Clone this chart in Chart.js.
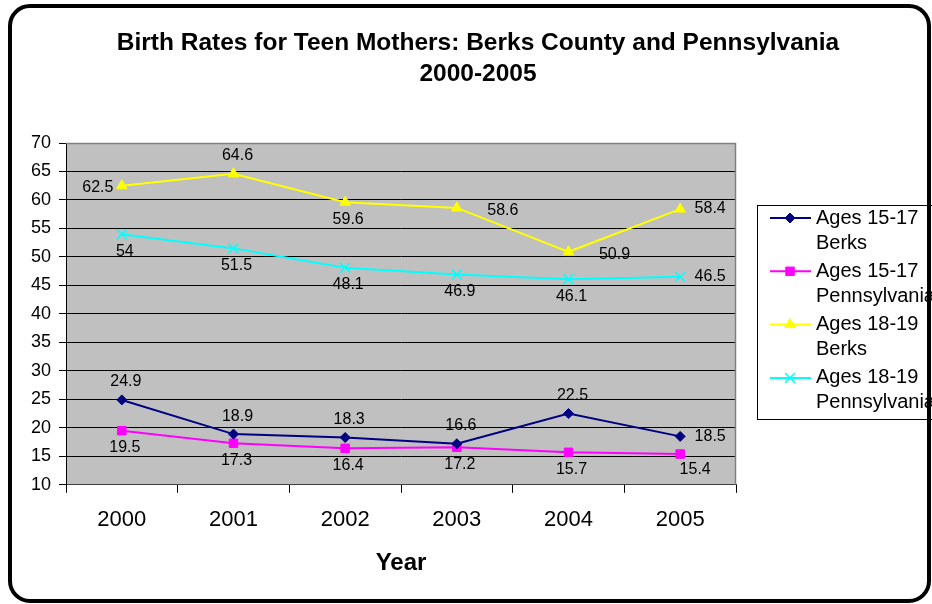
<!DOCTYPE html>
<html>
<head>
<meta charset="utf-8">
<script src="https://cdn.jsdelivr.net/npm/chart.js@4.4.1/dist/chart.umd.min.js"></script>
<style>
    body { margin: 0; background: #fff; }
    #wrap { position: relative; width: 932px; height: 604px; overflow: hidden; }
    #frame {
        position: absolute; left: 8px; top: 4px; width: 923px; height: 599px;
        border: 4px solid #000; border-radius: 22px; box-sizing: border-box; pointer-events: none;
    }
    canvas { position: absolute; left: 0; top: 0; }
</style>
</head>
<body>
<div id="wrap">
    <canvas id="myChart" width="932" height="604"></canvas>
    <div id="frame"></div>
</div>
<script>
const years = ['2000', '2001', '2002', '2003', '2004', '2005'];

const berks1517 = [24.9, 18.9, 18.3, 17.2, 22.5, 18.5];
const penn1517 = [19.5, 17.3, 16.4, 16.6, 15.7, 15.4];
const berks1819 = [62.5, 64.6, 59.6, 58.6, 50.9, 58.4];
const penn1819 = [54, 51.5, 48.1, 46.9, 46.1, 46.5];

// printed labels (the 2003 labels of the 15-17 series are swapped on the original)
const berks1517Labels = ['24.9', '18.9', '18.3', '16.6', '22.5', '18.5'];
const penn1517Labels = ['19.5', '17.3', '16.4', '17.2', '15.7', '15.4'];

const seriesNames = [
    ['Ages 15-17', 'Berks'],
    ['Ages 15-17', 'Pennsylvania'],
    ['Ages 18-19', 'Berks'],
    ['Ages 18-19', 'Pennsylvania']
];

const yTicks = { min: 10, max: 70, step: 5 };

// where each value label sits relative to its point
const labelSpots = [
    ['above', 'above', 'above', 'above', 'above', 'right'],
    ['below', 'below', 'below', 'below', 'below', 'belowRight'],
    ['left', 'above', 'below', 'farRight', 'farRight', 'right'],
    ['below', 'below', 'below', 'below', 'below', 'right']
];
const spotOffsets = {
    above: [4, -18], below: [3, 17], left: [-24, 2],
    right: [30, 0], farRight: [46, 3], belowRight: [15, 16]
};

const FONT = 'Liberation Sans, Arial, sans-serif';
Chart.defaults.font.family = FONT;
Chart.defaults.color = '#000';

const plotBackground = {
    id: 'plotBackground',
    beforeDraw(chart) {
        const { ctx, chartArea: a } = chart;
        ctx.save();
        ctx.fillStyle = '#C0C0C0';
        ctx.fillRect(a.left, a.top, a.right - a.left, a.bottom - a.top);
        ctx.restore();
    },
    afterDatasetsDraw(chart) {
        const { ctx, chartArea: a } = chart;
        ctx.save();
        ctx.strokeStyle = '#808080';
        ctx.lineWidth = 1.5;
        ctx.beginPath();
        ctx.moveTo(a.left, a.top + 0.5);
        ctx.lineTo(a.right - 0.5, a.top + 0.5);
        ctx.lineTo(a.right - 0.5, a.bottom);
        ctx.stroke();
        ctx.restore();
    }
};

const valueLabels = {
    id: 'valueLabels',
    afterDatasetsDraw(chart) {
        const ctx = chart.ctx;
        ctx.save();
        ctx.font = '16px ' + FONT;
        ctx.fillStyle = '#000';
        ctx.textAlign = 'center';
        ctx.textBaseline = 'middle';
        chart.data.datasets.forEach((ds, i) => {
            chart.getDatasetMeta(i).data.forEach((pt, j) => {
                const text = ds.printed ? ds.printed[j] : String(ds.data[j]);
                const off = spotOffsets[labelSpots[i][j]];
                ctx.fillText(text, pt.x + off[0], pt.y + off[1]);
            });
        });
        ctx.restore();
    }
};

const titleAndLegend = {
    id: 'titleAndLegend',
    afterDraw(chart) {
        const ctx = chart.ctx;
        ctx.save();
        // title
        ctx.fillStyle = '#000';
        ctx.textAlign = 'center';
        ctx.textBaseline = 'alphabetic';
        ctx.font = 'bold 24.5px ' + FONT;
        ctx.fillText('Birth Rates for Teen Mothers: Berks County and Pennsylvania', 478, 50);
        ctx.fillText('2000-2005', 478, 81);

        // legend box
        ctx.strokeStyle = '#000';
        ctx.lineWidth = 1;
        ctx.strokeRect(757.5, 205.5, 200, 214);

        chart.data.datasets.forEach((ds, i) => {
            const y = 218 + i * 53.3;
            ctx.strokeStyle = ds.borderColor;
            ctx.lineWidth = 2;
            ctx.beginPath();
            ctx.moveTo(770, y);
            ctx.lineTo(811, y);
            ctx.stroke();
            ctx.fillStyle = ds.pointBackgroundColor;
            ctx.strokeStyle = ds.borderColor;
            ctx.lineWidth = ds.pointBorderWidth;
            Chart.helpers.drawPoint(ctx, {
                pointStyle: ds.pointStyle, radius: ds.pointRadius,
                borderWidth: ds.pointBorderWidth, rotation: 0
            }, 790, y);
            ctx.fillStyle = '#000';
            ctx.textAlign = 'left';
            ctx.textBaseline = 'middle';
            ctx.font = '20px ' + FONT;
            ctx.fillText(seriesNames[i][0], 816, y);
            ctx.fillText(seriesNames[i][1], 816, y + 25);
        });
        ctx.restore();
    }
};

function series(values, color, style, radius, printed) {
    return {
        data: values,
        printed: printed,
        borderColor: color,
        backgroundColor: color,
        pointBackgroundColor: color,
        pointBorderColor: color,
        borderWidth: 2,
        pointStyle: style,
        pointRadius: radius,
        pointBorderWidth: style === 'crossRot' ? 1.5 : 1,
        tension: 0
    };
}

const ctx = document.getElementById('myChart').getContext('2d');
const myChart = new Chart(ctx, {
    type: 'line',
    data: {
        labels: years,
        datasets: [
            series(berks1517, '#000080', 'rectRot', 5, berks1517Labels),
            series(penn1517, '#FF00FF', 'rect', 6, penn1517Labels),
            series(berks1819, '#FFFF00', 'triangle', 6, null),
            series(penn1819, '#00FFFF', 'crossRot', 7, null)
        ]
    },
    options: {
        responsive: false,
        animation: false,
        devicePixelRatio: 1,
        layout: { padding: { left: 0, right: 196, top: 143, bottom: 22 } },
        plugins: {
            legend: { display: false },
            title: { display: false },
            tooltip: { enabled: false }
        },
        scales: {
            x: {
                offset: true,
                grid: { offset: true, drawOnChartArea: false, drawTicks: true, tickLength: 8, color: '#000' },
                border: { color: '#404040', width: 1 },
                ticks: { font: { size: 22 }, color: '#000', padding: 14, maxRotation: 0 },
                title: {
                    display: true, text: 'Year', color: '#000',
                    font: { size: 24, weight: 'bold' },
                    padding: { top: 2, bottom: 4 }
                }
            },
            y: {
                min: yTicks.min,
                max: yTicks.max,
                ticks: { stepSize: yTicks.step, font: { size: 18 }, color: '#000', padding: 8 },
                grid: { color: '#000', tickLength: 7 },
                border: { color: '#000', width: 1 },
                afterFit: function(scale) { scale.width = 66; }
            }
        }
    },
    plugins: [plotBackground, valueLabels, titleAndLegend]
});
</script>
</body>
</html>
